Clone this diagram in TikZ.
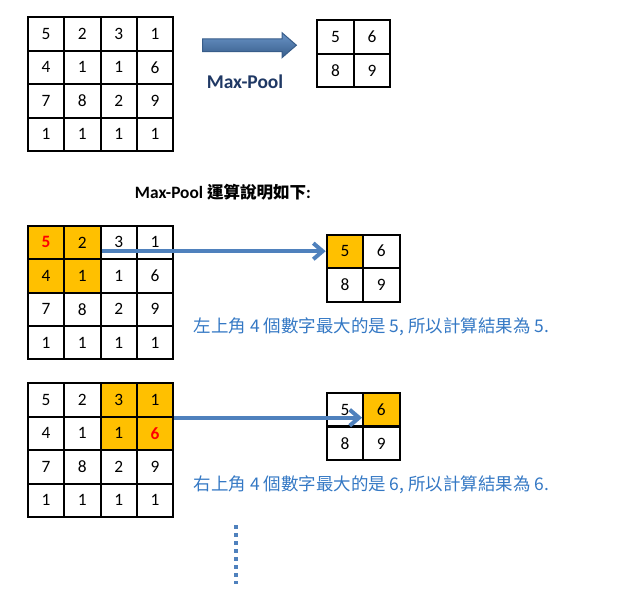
\documentclass[tikz,border=0pt]{standalone}
\usepackage{fontspec}
\setmainfont{Carlito}
\newfontfamily\cjk{Noto Sans CJK TC}
\usetikzlibrary{arrows.meta,shapes.arrows}
\definecolor{poolorange}{RGB}{255,192,0}
\definecolor{flowblue}{RGB}{79,129,189}
\definecolor{arrowedge}{RGB}{56,93,138}
\definecolor{noteblue}{RGB}{52,120,196}
\definecolor{labelnavy}{RGB}{31,56,100}
\tikzset{every picture/.style={line width=0.75pt}}
\tikzset{
    cell/.style={draw, line width=1.5pt, minimum width=27.3pt, minimum height=25.05pt, inner sep=0pt, font=\fontsize{13}{15}\selectfont},
    hot/.style={fill=poolorange},
    maxval/.style={text=red, font=\fontsize{13}{15}\selectfont\bfseries},
    gB-1-1/.style={hot,maxval}, gB-1-2/.style={hot}, gB-2-1/.style={hot}, gB-2-2/.style={hot},
    gC-1-3/.style={hot}, gC-1-4/.style={hot}, gC-2-3/.style={hot}, gC-2-4/.style={hot,maxval},
    pB-1-1/.style={hot}, pC-1-2/.style={hot},
    poolarrow/.style={single arrow, draw=arrowedge, line width=0.75pt, top color=flowblue!85!white, bottom color=arrowedge, minimum height=70.3pt, single arrow head extend=4.6pt, single arrow tip angle=82, single arrow head indent=0pt, inner xsep=0pt, inner ysep=4.4pt, text height=0pt, text depth=0pt},
    poollabel/.style={text=labelnavy, font=\fontsize{14.6}{17}\selectfont\bfseries},
    title/.style={font=\fontsize{13}{15}\selectfont\bfseries},
    flow/.style={draw=flowblue, line width=3pt, -{Straight Barb[length=7pt,width=12pt]}},
    note/.style={anchor=west, inner sep=0pt, text=noteblue, font=\cjk\fontsize{13.1}{15}\selectfont},
    etc/.style={draw=flowblue, line width=2.5pt, dash pattern=on 3pt off 3pt},
}

\begin{document}
\begin{tikzpicture}[x=0.75pt,y=0.75pt,yscale=-1]
    \useasboundingbox (0,0) rectangle (622,604);
    \foreach \g/\gy in {gA/17.3,gB/225.7,gC/383.3}
        \foreach \row [count=\r] in {{5,2,3,1},{4,1,1,6},{7,8,2,9},{1,1,1,1}}
            \foreach \v [count=\c] in \row
                \node[cell,\g-\r-\c/.try] (\g-\r-\c) at ({27.7+36.4*(\c-0.5)},{\gy+33.4*(\r-0.5)}) {\v};
    \foreach \p/\px/\py in {pA/317.3/20,pB/326.7/234.3,pC/326.7/392.7}
        \foreach \row [count=\r] in {{5,6},{8,9}}
            \foreach \v [count=\c] in \row
                \node[cell,\p-\r-\c/.try] (\p-\r-\c) at ({\px+36.4*(\c-0.5)},{\py+33.8*(\r-0.5)}) {\v};
    \node[poolarrow] (poolarrow) at (245.85,45.2) {};
    \node[poollabel] (poollabel) at (245,81.7) {Max-Pool};
    \node[title] (title) at (223,191.7) {Max-Pool {\cjk\fontsize{12.4}{15}\selectfont 運算說明如下}:};
    \draw[flow] (gB-1-2.east |- pB-1-1.west) -- (pB-1-1.west);
    \draw[flow] (gC-1-4.south east) -- (gC-1-4.south east -| pC-1-2.west);
    \node[note] (noteB) at (193.3,326.7) {左上角 4 個數字最大的是 5, 所以計算結果為 5.};
    \node[note] (noteC) at (193.3,485) {右上角 4 個數字最大的是 6, 所以計算結果為 6.};
    \coordinate (etcA) at (236,525);
    \coordinate (etcB) at (236,584);
    \draw[etc] (etcA) -- (etcB);
\end{tikzpicture}
\end{document}
